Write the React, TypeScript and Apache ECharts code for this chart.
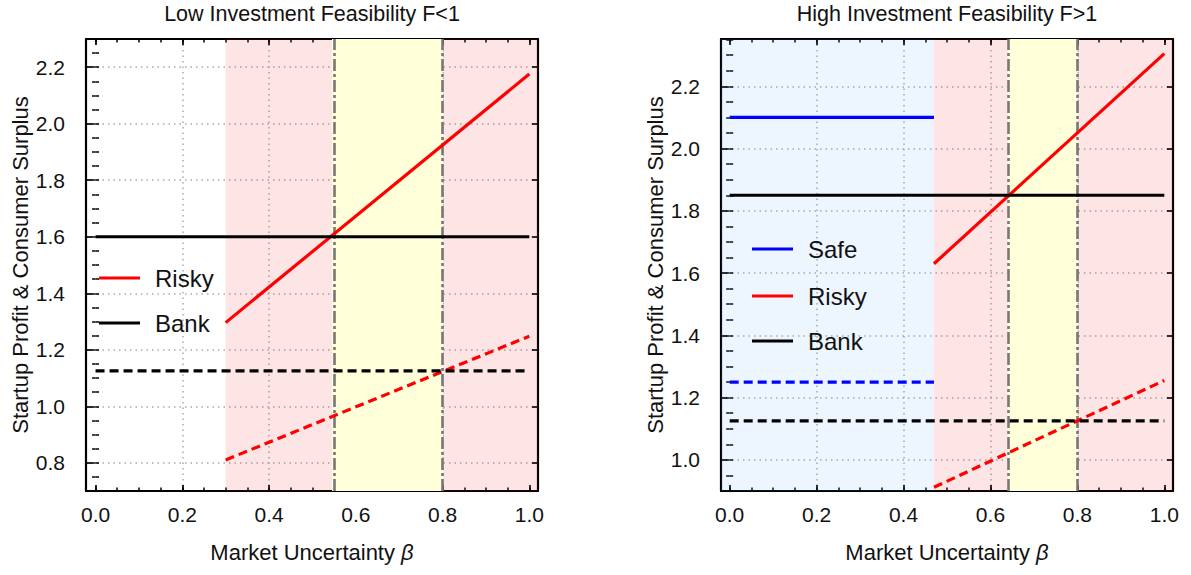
import React, { useEffect, useRef } from "react";
import * as echarts from "echarts";

// ---------- data ----------
const xMajorTicks = [0, 0.2, 0.4, 0.6, 0.8, 1.0];
const xMinorTicks = [0, 0.05, 0.1, 0.15, 0.2, 0.25, 0.3, 0.35, 0.4, 0.45, 0.5, 0.55, 0.6, 0.65, 0.7, 0.75, 0.8, 0.85, 0.9, 0.95, 1.0];
const xGridLines = [0.2, 0.4, 0.6, 0.8];

const lowYMajor = [0.8, 1.0, 1.2, 1.4, 1.6, 1.8, 2.0, 2.2];
const lowYMinor = [0.7, 0.75, 0.8, 0.85, 0.9, 0.95, 1.0, 1.05, 1.1, 1.15, 1.2, 1.25, 1.3, 1.35, 1.4, 1.45, 1.5, 1.55, 1.6, 1.65, 1.7, 1.75, 1.8, 1.85, 1.9, 1.95, 2.0, 2.05, 2.1, 2.15, 2.2, 2.25, 2.3];
const highYMajor = [1.0, 1.2, 1.4, 1.6, 1.8, 2.0, 2.2];
const highYMinor = [0.9, 0.95, 1.0, 1.05, 1.1, 1.15, 1.2, 1.25, 1.3, 1.35, 1.4, 1.45, 1.5, 1.55, 1.6, 1.65, 1.7, 1.75, 1.8, 1.85, 1.9, 1.95, 2.0, 2.05, 2.1, 2.15, 2.2, 2.25, 2.3, 2.35];

// Low investment feasibility (F<1)
const lowRiskySolid = [[0.3, 1.296], [1.0, 2.176]];
const lowRiskyDashed = [[0.3, 0.81], [1.0, 1.248]];
const lowBankSolid = [[0, 1.6], [1.0, 1.6]];
const lowBankDashed = [[0, 1.125], [1.0, 1.125]];
const lowPinkBands = [[0.3, 0.545], [0.8, 1.02]];
const lowYellowBands = [[0.545, 0.8]];
const lowThresholds = [0.545, 0.8];

// High investment feasibility (F>1)
const highSafeSolid = [[0, 2.1], [0.47, 2.1]];
const highSafeDashed = [[0, 1.25], [0.47, 1.25]];
const highRiskySolid = [[0.47, 1.63], [1.0, 2.305]];
const highRiskyDashed = [[0.47, 0.912], [1.0, 1.255]];
const highBankSolid = [[0, 1.85], [1.0, 1.85]];
const highBankDashed = [[0, 1.125], [1.0, 1.125]];
const highBlueBands = [[-0.02, 0.47]];
const highPinkBands = [[0.47, 0.64], [0.8, 1.02]];
const highYellowBands = [[0.64, 0.8]];
const highThresholds = [0.64, 0.8];

const titles = ["Low Investment Feasibility F<1", "High Investment Feasibility F>1"];
const xName = "Market Uncertainty {b|β}";
const yName = "Startup Profit & Consumer Surplus";

// ---------- styles ----------
const FONT = "'Liberation Sans', Arial, sans-serif";
const TXT = "#111111";
const PINK = "rgba(240, 40, 40, 0.12)";
const YELLOW = "#ffffd9";
const BLUE = "rgba(90, 160, 255, 0.11)";

function axesFor(dim: "x" | "y", g: number, min: number, max: number, major: number[], minor: number[], grid: number[], name: string) {
  const base = {
    type: "value",
    gridIndex: g,
    min,
    max,
    axisLine: { show: false },
    axisTick: { show: false },
    axisLabel: { show: false },
    splitLine: { show: false },
  };
  const posA = dim === "x" ? "bottom" : "left";
  const posB = dim === "x" ? "top" : "right";
  const frameLine = { show: true, onZero: false, lineStyle: { color: "#000", width: 2.2 } };
  const majorTick = (vals: number[]) => ({ show: true, inside: true, length: 6, customValues: vals, lineStyle: { color: "#000", width: 1.7 } });
  const minorTick = (vals: number[]) => ({ show: true, inside: true, length: 3.5, customValues: vals, lineStyle: { color: "#000", width: 1.5 } });
  return [
    {
      ...base,
      position: posA,
      axisLine: frameLine,
      axisTick: majorTick(major),
      axisLabel: {
        show: true,
        customValues: major,
        formatter: (v: number) => v.toFixed(1),
        margin: dim === "x" ? 13 : 21,
        fontSize: 21,
        color: TXT,
        fontFamily: FONT,
      },
      name,
      nameLocation: "middle",
      nameGap: dim === "x" ? 50 : 55,
      nameTextStyle: {
        fontSize: 22,
        color: TXT,
        fontFamily: FONT,
        rich: { b: { fontSize: 22, fontStyle: "italic", color: TXT, fontFamily: FONT } },
      },
    },
    { ...base, position: posA, axisTick: minorTick(minor) },
    { ...base, position: posB, axisLine: frameLine, axisTick: majorTick(major) },
    { ...base, position: posB, axisTick: minorTick(minor) },
    {
      ...base,
      position: posA,
      axisTick: { show: false, customValues: grid },
      splitLine: { show: true, lineStyle: { color: "#ababab", width: 1.5, type: [1.5, 4] } },
    },
  ];
}

function bandSeries(g: number, bands: number[][], color: string, z: number) {
  return {
    type: "line",
    xAxisIndex: g * 5,
    yAxisIndex: g * 5,
    data: [],
    silent: true,
    z,
    markArea: {
      silent: true,
      itemStyle: { color },
      data: bands.map((b) => [{ xAxis: b[0] }, { xAxis: b[1] }]),
    },
  };
}

function thresholdSeries(g: number, xs: number[]) {
  return {
    type: "line",
    xAxisIndex: g * 5,
    yAxisIndex: g * 5,
    data: [],
    silent: true,
    z: 3,
    markLine: {
      silent: true,
      symbol: "none",
      label: { show: false },
      lineStyle: { color: "#777777", width: 2.6, type: [12, 3, 3, 3] },
      data: xs.map((x) => ({ xAxis: x })),
    },
  };
}

function lineSeries(g: number, name: string, data: number[][], color: string, dashed: boolean) {
  return {
    type: "line",
    name,
    xAxisIndex: g * 5,
    yAxisIndex: g * 5,
    data,
    symbol: "none",
    showSymbol: false,
    z: 5,
    lineStyle: { color, width: 3.2, type: dashed ? [9, 5] : "solid" },
  };
}

function legendItems(x: number, ys: number[], names: string[], colors: string[]) {
  const els: any[] = [];
  names.forEach((n, i) => {
    els.push({
      type: "line",
      shape: { x1: x, y1: ys[i], x2: x + 41, y2: ys[i] },
      style: { stroke: colors[i], lineWidth: 3.2 },
      z: 10,
    });
    els.push({
      type: "text",
      x: x + 56,
      y: ys[i],
      style: { text: n, fontSize: 24, fontFamily: FONT, fill: TXT, verticalAlign: "middle", align: "left" },
      z: 10,
    });
  });
  return els;
}

export default function App() {
  const ref = useRef<HTMLDivElement>(null);
  useEffect(() => {
    if (!ref.current) return;
    const chart = echarts.init(ref.current, undefined, { renderer: "svg" });
    const option: any = {
      animation: false,
      backgroundColor: "#ffffff",
      title: [
        { text: titles[0], left: 312, top: 3, padding: 0, textAlign: "center", textStyle: { fontSize: 21.5, fontWeight: "normal", color: TXT, fontFamily: FONT } },
        { text: titles[1], left: 947, top: 3, padding: 0, textAlign: "center", textStyle: { fontSize: 21.5, fontWeight: "normal", color: TXT, fontFamily: FONT } },
      ],
      grid: [
        { left: 86, top: 39, width: 452, height: 452 },
        { left: 721, top: 39, width: 452, height: 452 },
      ],
      xAxis: [
        ...axesFor("x", 0, -0.022, 1.02, xMajorTicks, xMinorTicks, xGridLines, xName),
        ...axesFor("x", 1, -0.02, 1.02, xMajorTicks, xMinorTicks, xGridLines, xName),
      ],
      yAxis: [
        ...axesFor("y", 0, 0.7, 2.3, lowYMajor, lowYMinor, lowYMajor, yName),
        ...axesFor("y", 1, 0.9, 2.352, highYMajor, highYMinor, highYMajor, yName),
      ],
      series: [
        bandSeries(0, lowPinkBands, PINK, 1),
        bandSeries(0, lowYellowBands, YELLOW, 1),
        thresholdSeries(0, lowThresholds),
        lineSeries(0, "Risky", lowRiskySolid, "#ff0000", false),
        lineSeries(0, "Risky (dashed)", lowRiskyDashed, "#ff0000", true),
        lineSeries(0, "Bank", lowBankSolid, "#000000", false),
        lineSeries(0, "Bank (dashed)", lowBankDashed, "#000000", true),

        bandSeries(1, highBlueBands, BLUE, 1),
        bandSeries(1, highPinkBands, PINK, 1),
        bandSeries(1, highYellowBands, YELLOW, 1),
        thresholdSeries(1, highThresholds),
        lineSeries(1, "Safe", highSafeSolid, "#0000ff", false),
        lineSeries(1, "Safe (dashed)", highSafeDashed, "#0000ff", true),
        lineSeries(1, "Risky", highRiskySolid, "#ff0000", false),
        lineSeries(1, "Risky (dashed)", highRiskyDashed, "#ff0000", true),
        lineSeries(1, "Bank", highBankSolid, "#000000", false),
        lineSeries(1, "Bank (dashed)", highBankDashed, "#000000", true),
      ],
      graphic: [
        ...legendItems(99, [278, 323], ["Risky", "Bank"], ["#ff0000", "#000000"]),
        ...legendItems(752, [249, 296, 341], ["Safe", "Risky", "Bank"], ["#0000ff", "#ff0000", "#000000"]),
      ],
    };
    chart.setOption(option);
    return () => chart.dispose();
  }, []);
  return <div ref={ref} style={{ width: 1191, height: 575, position: "absolute", left: 0, top: 0 }} />;
}
